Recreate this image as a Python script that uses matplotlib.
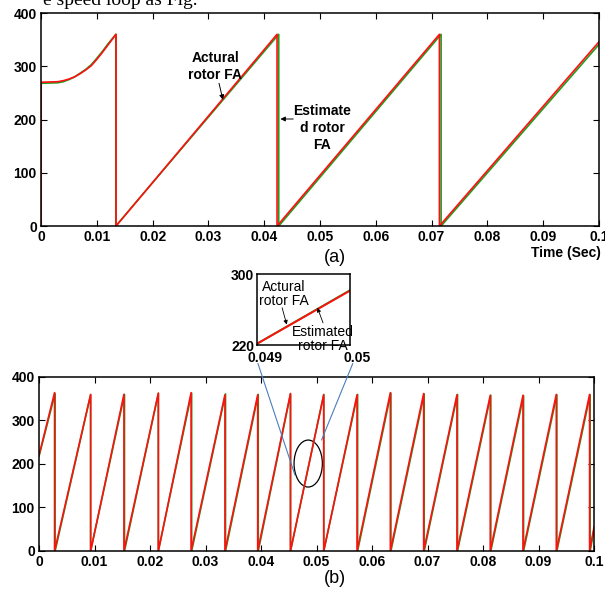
import numpy as np
import matplotlib
matplotlib.use("Agg")
import matplotlib.pyplot as plt
from matplotlib.patches import Ellipse, ConnectionPatch

plt.rcParams['font.family'] = ['Liberation Sans', 'DejaVu Sans']
plt.rcParams['font.size'] = 10

RED = '#ff1010'
GREEN = '#1f9e1f'

# (a) start-up part of the rotor flux angle (deg)
act_start_t = [0.0, 0.0, 0.003, 0.004, 0.005, 0.006, 0.007, 0.008, 0.009,
               0.010, 0.011, 0.012, 0.01345]
act_start_v = [0, 270, 271, 273, 276, 280, 286, 293, 301, 313, 326, 340, 360]
est_start_t = [0.0, 0.0, 0.003, 0.004, 0.005, 0.006, 0.007, 0.008, 0.009,
               0.010, 0.011, 0.012, 0.0134]
est_start_v = [0, 268, 269, 271, 275, 280, 287, 294, 303, 315, 328, 342, 360]

# (a) wrap-around instants and values
act_drop_a = [0.01345, 0.0423, 0.0714]
est_drop_a = [0.0134, 0.0426, 0.0717]
act_peak_a = [360, 360]
est_peak_a = [360, 360]
act_end_a = 346
est_end_a = 341

# (b) wrap-around instants and peaks
act_b0 = 220
act_drop_b = [0.0028, 0.0093, 0.0153, 0.0215, 0.0274, 0.0335, 0.0394, 0.0453,
              0.0513, 0.0573, 0.0633, 0.0693, 0.0753, 0.0813, 0.0872, 0.0932, 0.0992]
act_peak_b = [364, 360, 360, 363, 364, 359, 359, 362, 359, 359, 364, 362,
              359, 358, 358, 360, 360]
act_end_b = 55
est_b0 = 218
est_drop_b = [0.0029, 0.0093, 0.0154, 0.0215, 0.0275, 0.0336, 0.0395, 0.04532,
              0.0513, 0.0574, 0.0634, 0.0694, 0.0754, 0.0814, 0.0873, 0.0933, 0.0993]
est_peak_b = [362, 359, 360, 362, 363, 361, 360, 361, 360, 360, 363, 361,
              360, 358, 357, 359, 359]
est_end_b = 50

xticks = [0, 0.01, 0.02, 0.03, 0.04, 0.05, 0.06, 0.07, 0.08, 0.09, 0.1]
xticklabels = ['0', '0.01', '0.02', '0.03', '0.04', '0.05', '0.06', '0.07',
               '0.08', '0.09', '0.1']
yticks = [0, 100, 200, 300, 400]


def sawtooth(t0, v0, drops, peaks, v_end):
    # vertices: climb to each peak at the drop instant, fall to 0, climb again
    t = [t0]
    v = [v0]
    for i, d in enumerate(drops):
        t += [d, d]
        v += [peaks[i], 0]
    t.append(0.1)
    v.append(v_end)
    return np.array(t), np.array(v)


def style(ax):
    ax.set_xlim(0, 0.1)
    ax.set_ylim(0, 400)
    ax.set_xticks(xticks)
    ax.set_xticklabels(xticklabels, fontweight='bold')
    ax.set_yticks(yticks)
    ax.set_yticklabels([str(v) for v in yticks], fontweight='bold')
    ax.tick_params(direction='in', top=True, right=True, length=4,
                   width=0.8, labelsize=10, pad=3)
    for s in ax.spines.values():
        s.set_linewidth(1.1)


fig = plt.figure(figsize=(6.05, 5.92), dpi=100)

fig.text(0.071, 1 - 5 / 592, 'e speed loop as Fig.', family='Liberation Serif',
         fontsize=14, va='baseline', ha='left')

# ---- (a)
ax1 = fig.add_axes([0.0678, 0.6182, 0.9223, 0.3598])
ta, va_ = sawtooth(act_start_t[-1], act_start_v[-1], act_drop_a[1:], act_peak_a, act_end_a)
ta = np.concatenate([act_start_t[:-1], [act_drop_a[0]], ta])
va_ = np.concatenate([act_start_v[:-1], [360, 0], va_[1:]])
te, ve = sawtooth(est_start_t[-1], est_start_v[-1], est_drop_a[1:], est_peak_a, est_end_a)
te = np.concatenate([est_start_t[:-1], [est_drop_a[0]], te])
ve = np.concatenate([est_start_v[:-1], [360, 0], ve[1:]])
ax1.plot(te, ve, color=GREEN, lw=1.2)
ax1.plot(ta, va_, color=RED, lw=1.2)
style(ax1)

ax1.text(0.0312, 300, 'Actural\nrotor FA', ha='center', va='center',
         fontweight='bold', fontsize=10, linespacing=1.3)
ax1.annotate('', xy=(0.0326, 237), xytext=(0.0319, 268),
             arrowprops=dict(arrowstyle='-|>', color='black', lw=0.7,
                             mutation_scale=7, shrinkA=0, shrinkB=0))
ax1.annotate('', xy=(0.0429, 201), xytext=(0.0452, 201),
             arrowprops=dict(arrowstyle='-|>', color='black', lw=0.7,
                             mutation_scale=7, shrinkA=0, shrinkB=0))
ax1.text(0.0504, 184, 'Estimate\nd rotor\nFA', ha='center', va='center',
         fontweight='bold', fontsize=10, linespacing=1.3)
fig.text(0.553, 0.565, '(a)', ha='center', va='center', fontsize=13)
fig.text(0.994, 0.573, 'Time (Sec)', ha='right', va='center',
         fontweight='bold', fontsize=10)

# ---- (b)
ax2 = fig.add_axes([0.0645, 0.0693, 0.9174, 0.2939])
tbe, vbe = sawtooth(0.0, est_b0, est_drop_b, est_peak_b, est_end_b)
tba, vba = sawtooth(0.0, act_b0, act_drop_b, act_peak_b, act_end_b)
ax2.plot(tbe, vbe, color=GREEN, lw=1.2)
ax2.plot(tba, vba, color=RED, lw=1.2)
style(ax2)
ax2.add_patch(Ellipse((0.0485, 201), 0.0051, 108, fill=False,
                      edgecolor='black', lw=0.9))
fig.text(0.553, 0.023, '(b)', ha='center', va='center', fontsize=13)

# ---- zoomed inset
ax3 = fig.add_axes([0.4248, 0.4172, 0.1537, 0.1199])
ax3.plot(tbe, vbe, color=GREEN, lw=1.4)
ax3.plot(tba, vba, color=RED, lw=1.4)
ax3.set_xlim(0.049, 0.05)
ax3.set_ylim(220, 300)
ax3.set_xticks([])
ax3.set_yticks([220, 300])
ax3.set_yticklabels(['220', '300'], fontweight='bold')
ax3.tick_params(length=0, labelsize=10, pad=2)
for s in ax3.spines.values():
    s.set_linewidth(1.1)
ax3.text(0.086, -0.18, '0.049', transform=ax3.transAxes, ha='center',
         va='center', fontweight='bold', fontsize=10)
ax3.text(1.075, -0.18, '0.05', transform=ax3.transAxes, ha='center',
         va='center', fontweight='bold', fontsize=10)
ax3.text(0.04929, 278, 'Actural\nrotor FA', ha='center', va='center',
         fontsize=10, linespacing=1.0)
ax3.text(0.04971, 227, 'Estimated\nrotor FA', ha='center', va='center',
         fontsize=10, linespacing=1.0)
ax3.annotate('', xy=(0.04932, 243), xytext=(0.04927, 262),
             arrowprops=dict(arrowstyle='-|>', color='black', lw=0.6,
                             mutation_scale=6, shrinkA=0, shrinkB=0))
ax3.annotate('', xy=(0.04965, 262), xytext=(0.04971, 245),
             arrowprops=dict(arrowstyle='-|>', color='black', lw=0.6,
                             mutation_scale=6, shrinkA=0, shrinkB=0))

for xa, xb in [((0.01, -0.26), (0.0461, 175)), ((1.03, -0.26), (0.0509, 255))]:
    cp = ConnectionPatch(xyA=xa, coordsA=ax3.transAxes, xyB=xb,
                         coordsB=ax2.transData, color='#4a7ebb', lw=0.8)
    fig.add_artist(cp)

fig.savefig('out.png', dpi=100)
